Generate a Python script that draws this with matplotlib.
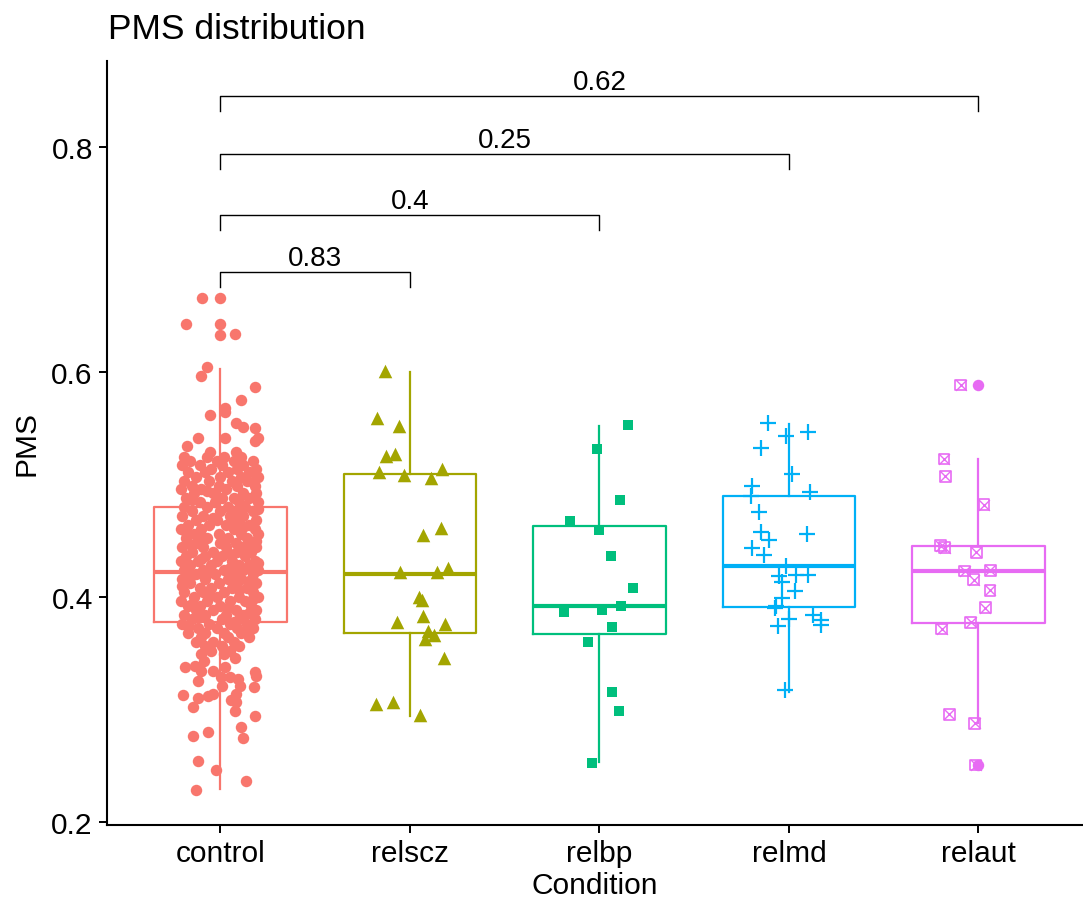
import matplotlib
matplotlib.use("Agg")
import matplotlib.pyplot as plt

plt.rcParams['font.family'] = ['Liberation Sans', 'DejaVu Sans']

conditions = ['control', 'relscz', 'relbp', 'relmd', 'relaut']
colors = ['#F8766D', '#A3A500', '#00BF7D', '#00B0F6', '#E76BF3']

# box statistics: whisker low, q1, median, q3, whisker high
whis_lo = [0.229, 0.2945, 0.2531, 0.3153, 0.288]
q1 = [0.378, 0.3677, 0.3671, 0.3911, 0.3769]
median = [0.422, 0.4204, 0.3923, 0.4273, 0.4231]
q3 = [0.480, 0.5093, 0.4634, 0.4895, 0.4451]
whis_hi = [0.603, 0.6003, 0.5523, 0.5538, 0.5227]

outliers_control = [0.666, 0.643, 0.633]
outliers_relaut = [0.5884, 0.2507]

# jittered points: (PMS, horizontal jitter)
control_pts = [
    (0.666, -0.097), (0.643, -0.179), (0.634, 0.079), (0.604, -0.072), (0.596, -0.100),
    (0.587, 0.181), (0.575, 0.111), (0.568, 0.026), (0.564, 0.023), (0.562, -0.054),
    (0.555, 0.083), (0.551, 0.118), (0.550, 0.185), (0.541, -0.118), (0.541, 0.023),
    (0.539, 0.180), (0.541, 0.199), (0.534, -0.178), (0.529, -0.053), (0.529, 0.083),
    (0.524, -0.19), (0.524, -0.07), (0.524, 0.02), (0.524, 0.11),
    (0.521, -0.16), (0.521, -0.02), (0.521, 0.07), (0.521, 0.17),
    (0.517, -0.20), (0.517, -0.11), (0.517, 0.01), (0.517, 0.12),
    (0.514, -0.05), (0.514, 0.09), (0.514, 0.19),
    (0.511, -0.17), (0.511, -0.08), (0.511, 0.04), (0.511, 0.15),
    (0.507, -0.13), (0.507, 0.00), (0.507, 0.11), (0.507, 0.20),
    (0.503, -0.19), (0.503, -0.06), (0.503, 0.06), (0.503, 0.14),
    (0.499, -0.15), (0.499, -0.01), (0.499, 0.09), (0.499, 0.18),
    (0.496, -0.21), (0.496, -0.10), (0.496, 0.03),
    (0.492, -0.14), (0.492, -0.04), (0.492, 0.12), (0.492, 0.19),
    (0.488, -0.18), (0.488, 0.01), (0.488, 0.07), (0.488, 0.15),
    (0.484, -0.11), (0.484, -0.03), (0.484, 0.10), (0.484, 0.20),
    (0.480, -0.19), (0.480, -0.07), (0.480, 0.04), (0.480, 0.13),
    (0.476, -0.15), (0.476, 0.00), (0.476, 0.08), (0.476, 0.17),
    (0.472, -0.20), (0.472, -0.09), (0.472, 0.05), (0.472, 0.12),
    (0.468, -0.13), (0.468, -0.02), (0.468, 0.10), (0.468, 0.19),
    (0.464, -0.17), (0.464, -0.06), (0.464, 0.03), (0.464, 0.15),
    (0.460, -0.21), (0.460, -0.10), (0.460, 0.07), (0.460, 0.18),
    (0.456, -0.14), (0.456, -0.01), (0.456, 0.11), (0.456, 0.20),
    (0.452, -0.18), (0.452, -0.07), (0.452, 0.04), (0.452, 0.14),
    (0.448, -0.12), (0.448, 0.00), (0.448, 0.08), (0.448, 0.17),
    (0.444, -0.20), (0.444, -0.09), (0.444, 0.03), (0.444, 0.12), (0.444, 0.19),
    (0.440, -0.15), (0.440, -0.04), (0.440, 0.09), (0.440, 0.16),
    (0.436, -0.18), (0.436, -0.08), (0.436, 0.01), (0.436, 0.13),
    (0.432, -0.21), (0.432, -0.12), (0.432, -0.02), (0.432, 0.06), (0.432, 0.18),
    (0.428, -0.16), (0.428, -0.05), (0.428, 0.10), (0.428, 0.15),
    (0.424, -0.19), (0.424, -0.09), (0.424, 0.02), (0.424, 0.12), (0.424, 0.20),
    (0.420, -0.13), (0.420, -0.03), (0.420, 0.07), (0.420, 0.17),
    (0.416, -0.20), (0.416, -0.08), (0.416, 0.04), (0.416, 0.11),
    (0.412, -0.16), (0.412, -0.01), (0.412, 0.09), (0.412, 0.19),
    (0.408, -0.11), (0.408, -0.05), (0.408, 0.06), (0.408, 0.14),
    (0.404, -0.19), (0.404, -0.09), (0.404, 0.02), (0.404, 0.17),
    (0.400, -0.14), (0.400, -0.02), (0.400, 0.10), (0.400, 0.20),
    (0.396, -0.21), (0.396, -0.07), (0.396, 0.05), (0.396, 0.13),
    (0.392, -0.17), (0.392, -0.11), (0.392, 0.00), (0.392, 0.16),
    (0.388, -0.13), (0.388, -0.04), (0.388, 0.08), (0.388, 0.19),
    (0.384, -0.19), (0.384, -0.08), (0.384, 0.03), (0.384, 0.12),
    (0.380, -0.15), (0.380, 0.01), (0.380, 0.10), (0.380, 0.18),
    (0.376, -0.20), (0.376, -0.06), (0.376, 0.05), (0.376, 0.14),
    (0.372, -0.12), (0.372, -0.02), (0.372, 0.09), (0.372, 0.17),
    (0.368, -0.17), (0.368, -0.08), (0.368, 0.02), (0.368, 0.11),
    (0.364, -0.10), (0.364, 0.04), (0.364, 0.15),
    (0.360, -0.13), (0.360, -0.04), (0.360, 0.07),
    (0.356, -0.08), (0.356, 0.01), (0.356, 0.10),
    (0.352, -0.05), (0.352, 0.05), (0.349, -0.10), (0.349, 0.02),
    (0.346, 0.079), (0.3434, -0.086), (0.3389, -0.135), (0.3375, -0.188),
    (0.3381, 0.023), (0.3345, -0.100), (0.334, -0.039), (0.3331, 0.181),
    (0.3301, 0.190), (0.3286, 0.005), (0.3292, 0.049), (0.327, 0.093),
    (0.325, -0.118), (0.3212, 0.009), (0.3212, 0.102), (0.3197, 0.176),
    (0.3138, -0.039), (0.3138, 0.084), (0.3132, -0.197), (0.3123, -0.065),
    (0.3102, -0.118), (0.3084, 0.058), (0.3063, 0.084), (0.3025, -0.144),
    (0.2984, 0.079), (0.2945, 0.181), (0.2847, 0.107), (0.2797, -0.065),
    (0.2767, -0.144), (0.2744, 0.118), (0.2545, -0.118), (0.2465, -0.021),
    (0.2367, 0.137), (0.2287, -0.127),
    # extra points filling the dense middle
    (0.502, 0.170), (0.494, -0.070), (0.486, -0.150), (0.478, 0.200), (0.470, -0.040),
    (0.462, 0.120), (0.458, -0.180), (0.450, 0.190), (0.446, -0.150), (0.438, 0.050),
    (0.434, -0.100), (0.430, 0.200), (0.426, 0.050), (0.418, -0.160), (0.414, 0.150),
    (0.410, -0.200), (0.406, 0.100), (0.402, -0.060), (0.398, 0.170), (0.394, -0.150),
    (0.390, 0.040), (0.386, 0.150), (0.382, -0.110), (0.378, 0.070), (0.374, -0.170),
    (0.370, 0.130), (0.466, 0.060), (0.454, -0.100), (0.442, 0.140), (0.422, -0.060),
]

relscz_pms = [0.601, 0.559, 0.552, 0.5256, 0.527, 0.5114, 0.5084, 0.5055, 0.5138,
              0.4551, 0.4616, 0.422, 0.422, 0.4255, 0.3997, 0.3977, 0.3834, 0.378,
              0.376, 0.370, 0.366, 0.363, 0.3455, 0.3046, 0.307, 0.295]
relscz_jit = [-0.130, -0.174, -0.060, -0.125, -0.076, -0.165, -0.030, 0.111, 0.169,
              0.069, 0.165, -0.051, 0.144, 0.199, 0.046, 0.064, 0.069, -0.069,
              0.186, 0.093, 0.128, 0.081, 0.178, -0.178, -0.090, 0.054]

relbp_pms = [0.5529, 0.5316, 0.4862, 0.4673, 0.4598, 0.4364, 0.408, 0.3864, 0.3887,
             0.3923, 0.3736, 0.3603, 0.3156, 0.2984, 0.2524]
relbp_jit = [0.151, -0.014, 0.107, -0.157, 0.000, 0.062, 0.179, -0.185, 0.014,
             0.116, 0.069, -0.060, 0.065, 0.102, -0.037]

relmd_pms = [0.5547, 0.5434, 0.5464, 0.5327, 0.5096, 0.4984, 0.4895, 0.4931, 0.4753,
             0.458, 0.451, 0.456, 0.4433, 0.4373, 0.4278, 0.4184, 0.4196, 0.4196,
             0.4136, 0.4056, 0.3988, 0.3917, 0.3899, 0.384, 0.3804, 0.374, 0.3796,
             0.3751, 0.3173]
relmd_jit = [-0.111, -0.016, 0.099, -0.146, 0.018, -0.195, -0.199, 0.111, -0.157,
             -0.146, -0.107, 0.097, -0.197, -0.132, -0.016, -0.051, 0.039, 0.099,
             -0.039, 0.032, -0.035, -0.067, -0.074, 0.128, 0.002, -0.055, 0.172,
             0.169, -0.019]

relaut_pms = [0.5884, 0.5227, 0.5073, 0.482, 0.4456, 0.4439, 0.4397, 0.4231, 0.4237,
              0.4154, 0.406, 0.3905, 0.3775, 0.3716, 0.2957, 0.2877, 0.2507]
relaut_jit = [-0.093, -0.181, -0.174, 0.030, -0.199, -0.178, -0.011, -0.072, 0.063,
              -0.025, 0.061, 0.037, -0.041, -0.194, -0.153, -0.019, -0.014]

# comparison brackets against control
compare_with = [5, 4, 3, 2]
bracket_y = [0.8453, 0.7938, 0.7391, 0.6889]
p_labels = ['0.62', '0.25', '0.4', '0.83']

fig = plt.figure(figsize=(10.83, 9.04), dpi=100)
ax = fig.add_axes([106.7 / 1083, 1 - 825.7 / 904, (1083 - 106.7) / 1083, (825.7 - 62) / 904])

stats = []
for i in range(5):
    stats.append(dict(whislo=whis_lo[i], q1=q1[i], med=median[i], q3=q3[i],
                      whishi=whis_hi[i], fliers=[]))
for i, st in enumerate(stats):
    c = colors[i]
    ax.bxp([st], positions=[i + 1], widths=0.7, showcaps=False, showfliers=False,
           boxprops=dict(color=c, linewidth=1.6),
           whiskerprops=dict(color=c, linewidth=1.6),
           medianprops=dict(color=c, linewidth=3.0),
           zorder=2)

# boxplot outliers
ax.scatter([1] * len(outliers_control), outliers_control, s=68, color=colors[0],
           linewidths=0, zorder=2)
ax.scatter([5] * len(outliers_relaut), outliers_relaut, s=68, color=colors[4],
           linewidths=0, zorder=2)

# jittered points
ctrl_y = [p[0] for p in control_pts]
ctrl_x = [1 + p[1] for p in control_pts]
ax.scatter(ctrl_x, ctrl_y, s=68, color=colors[0], linewidths=0, zorder=3)
ax.scatter([2 + j for j in relscz_jit], relscz_pms, s=95, marker='^', color=colors[1],
           linewidths=0, zorder=3)
ax.scatter([3 + j for j in relbp_jit], relbp_pms, s=55, marker='s', color=colors[2],
           linewidths=0, zorder=3)
ax.scatter([4 + j for j in relmd_jit], relmd_pms, s=130, marker='+', color=colors[3],
           linewidths=1.6, zorder=3)
ax.scatter([5 + j for j in relaut_jit], relaut_pms, s=60, marker='s', facecolors='none',
           edgecolors=colors[4], linewidths=1.2, zorder=3)
ax.scatter([5 + j for j in relaut_jit], relaut_pms, s=60, marker='x', color=colors[4],
           linewidths=1.0, zorder=3)

# brackets
tick = 0.0133
for grp, yb, lab in zip(compare_with, bracket_y, p_labels):
    ax.plot([1, 1, grp, grp], [yb - tick, yb, yb, yb - tick], color='black', lw=1.0,
            zorder=4)
    ax.text((1 + grp) / 2, yb + 0.0065, lab, ha='center', va='baseline', fontsize=20)

ax.set_xlim(0.4, 5.552)
ax.set_ylim(0.1976, 0.8764)
ax.set_xticks(range(1, 6))
ax.set_xticklabels(conditions)
ax.set_yticks([0.2, 0.4, 0.6, 0.8])
ax.set_yticklabels(['0.2', '0.4', '0.6', '0.8'])
ax.tick_params(axis='both', labelsize=21.5, width=1.4, length=6, color='black', pad=4)
for side in ['top', 'right']:
    ax.spines[side].set_visible(False)
for side in ['left', 'bottom']:
    ax.spines[side].set_linewidth(1.5)
    ax.spines[side].set_color('black')

ax.set_xlabel('Condition', fontsize=21.5, labelpad=3)
ax.set_ylabel('PMS', fontsize=21.5, labelpad=8)
fig.text(108 / 1083, 1 - 39 / 904, 'PMS distribution', fontsize=25.5, ha='left',
         va='baseline')

fig.savefig('out.png', dpi=100)
